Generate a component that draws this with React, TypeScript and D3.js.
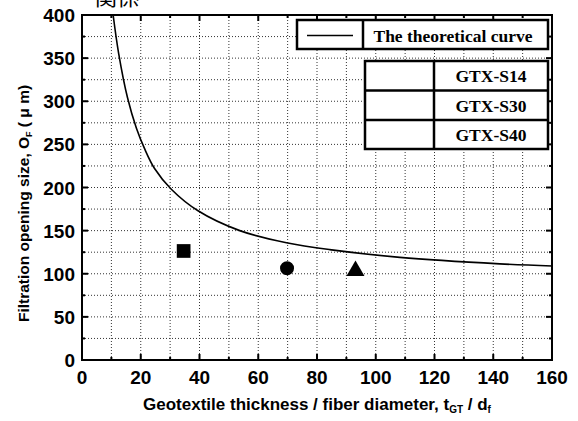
import React, { useEffect, useRef } from 'react';
import * as d3 from 'd3';

// theoretical curve, points
const curveRatio = [10.6, 12.5, 15.5, 18.5, 21.3, 24.7, 30.4, 39.5, 53.7, 69.6, 84.3, 108.2, 142.2, 160];
const curveSize = [400, 355, 304, 269, 245, 222, 198, 173, 150, 136, 128, 119, 111.5, 109];

// measured geotextiles
const samples = ['GTX-S14', 'GTX-S30', 'GTX-S40'];
const sampleRatio = [34.6, 69.8, 93.1];
const sampleSize = [126.4, 106.3, 103.3];

const xTicks = [0, 20, 40, 60, 80, 100, 120, 140, 160];
const yTicks = [0, 50, 100, 150, 200, 250, 300, 350, 400];

const App = () => {
  const svgRef = useRef(null);

  useEffect(() => {
    const svg = d3.select(svgRef.current);
    const width = 578;
    const height = 421;
    const margin = { top: 15, right: 26, bottom: 61, left: 82 };
    const sans = '"Liberation Sans", Arial, sans-serif';
    const serif = '"Liberation Serif", "Times New Roman", serif';

    svg.selectAll('*').remove();

    const x = d3.scaleLinear().domain([0, 160]).range([margin.left, width - margin.right]);
    const y = d3.scaleLinear().domain([0, 400]).range([height - margin.bottom, margin.top]);

    // cut-off title at the very top
    svg.append('text')
      .attr('x', 95).attr('y', 5)
      .attr('font-family', '"Noto Sans CJK JP", sans-serif')
      .attr('font-size', 22)
      .text('関係');

    // dotted grid
    const grid = svg.append('g')
      .attr('stroke', '#333')
      .attr('stroke-width', 1)
      .attr('stroke-dasharray', '1,2');
    grid.selectAll('line.gx')
      .data(d3.range(10, 160, 10))
      .join('line')
      .attr('class', 'gx')
      .attr('x1', d => x(d)).attr('x2', d => x(d))
      .attr('y1', y(0)).attr('y2', y(400));
    grid.selectAll('line.gy')
      .data(d3.range(25, 400, 25))
      .join('line')
      .attr('class', 'gy')
      .attr('x1', x(0)).attr('x2', x(160))
      .attr('y1', d => y(d)).attr('y2', d => y(d));

    // ticks on all four sides, pointing inward
    const tickG = svg.append('g').attr('stroke', '#000').attr('stroke-width', 2);
    d3.range(10, 160, 10).forEach(v => {
      const len = v % 20 === 0 ? 6 : 3;
      tickG.append('line').attr('x1', x(v)).attr('x2', x(v)).attr('y1', y(0)).attr('y2', y(0) - len);
      tickG.append('line').attr('x1', x(v)).attr('x2', x(v)).attr('y1', y(400)).attr('y2', y(400) + len);
    });
    d3.range(25, 400, 25).forEach(v => {
      const len = v % 50 === 0 ? 6 : 3;
      tickG.append('line').attr('y1', y(v)).attr('y2', y(v)).attr('x1', x(0)).attr('x2', x(0) + len);
      tickG.append('line').attr('y1', y(v)).attr('y2', y(v)).attr('x1', x(160)).attr('x2', x(160) - len);
    });

    // frame
    svg.append('rect')
      .attr('x', x(0)).attr('y', y(400))
      .attr('width', x(160) - x(0)).attr('height', y(0) - y(400))
      .attr('fill', 'none').attr('stroke', '#000').attr('stroke-width', 2);

    // tick labels
    svg.append('g')
      .attr('font-family', sans).attr('font-weight', 'bold').attr('font-size', 19)
      .attr('text-anchor', 'middle')
      .selectAll('text')
      .data(xTicks)
      .join('text')
      .attr('x', d => x(d)).attr('y', y(0) + 24)
      .text(d => d);
    svg.append('g')
      .attr('font-family', sans).attr('font-weight', 'bold').attr('font-size', 19)
      .attr('text-anchor', 'end')
      .selectAll('text')
      .data(yTicks)
      .join('text')
      .attr('x', x(0) - 7).attr('y', d => y(d) + 7)
      .text(d => d);

    // axis titles
    const xt = svg.append('text')
      .attr('x', (x(0) + x(160)) / 2).attr('y', 410)
      .attr('text-anchor', 'middle')
      .attr('font-family', sans).attr('font-weight', 'bold').attr('font-size', 17);
    xt.append('tspan').text('Geotextile thickness / fiber diameter, t');
    xt.append('tspan').attr('font-size', 10).attr('dy', 3).text('GT');
    xt.append('tspan').attr('dy', -3).text(' / d');
    xt.append('tspan').attr('font-size', 10).attr('dy', 3).text('f');

    const yt = svg.append('text')
      .attr('transform', `translate(29,${(y(0) + y(400)) / 2 + 16}) rotate(-90)`)
      .attr('text-anchor', 'middle')
      .attr('font-family', sans).attr('font-weight', 'bold').attr('font-size', 15.5);
    yt.append('tspan').text('Filtration opening size, O');
    yt.append('tspan').attr('font-size', 9).attr('dy', 3).text('F');
    yt.append('tspan').attr('dy', -3).text(' ( μ m)');

    // theoretical curve
    const pts = curveRatio.map((r, i) => [r, curveSize[i]]);
    const line = d3.line()
      .x(d => x(d[0])).y(d => y(d[1]))
      .curve(d3.curveCatmullRom.alpha(0.5));
    svg.append('path')
      .datum(pts)
      .attr('d', line)
      .attr('fill', 'none').attr('stroke', '#000').attr('stroke-width', 1.6);

    // measured points
    const shapes = [d3.symbolSquare, d3.symbolCircle, d3.symbolTriangle];
    const sizes = [188, 154, 140];
    samples.forEach((s, i) => {
      svg.append('path')
        .attr('d', d3.symbol().type(shapes[i]).size(sizes[i])())
        .attr('transform', `translate(${x(sampleRatio[i])},${y(sampleSize[i])})`)
        .attr('fill', '#000');
    });

    // legend: theoretical curve
    const lg = svg.append('g').attr('font-family', serif).attr('font-weight', 'bold').attr('font-size', 17.5);
    lg.append('rect')
      .attr('x', 297).attr('y', 20).attr('width', 251).attr('height', 29)
      .attr('fill', '#fff').attr('stroke', '#000').attr('stroke-width', 2.5);
    lg.append('line').attr('x1', 363).attr('x2', 363).attr('y1', 20).attr('y2', 49)
      .attr('stroke', '#000').attr('stroke-width', 2.5);
    lg.append('line').attr('x1', 307).attr('x2', 353).attr('y1', 35.5).attr('y2', 35.5)
      .attr('stroke', '#000').attr('stroke-width', 1.6);
    lg.append('text').attr('x', 453).attr('y', 41.5).attr('text-anchor', 'middle')
      .text('The theoretical curve');

    // legend: samples
    lg.append('rect')
      .attr('x', 365).attr('y', 61).attr('width', 183).attr('height', 88)
      .attr('fill', '#fff').attr('stroke', '#000').attr('stroke-width', 2.5);
    lg.append('line').attr('x1', 434).attr('x2', 434).attr('y1', 61).attr('y2', 149)
      .attr('stroke', '#000').attr('stroke-width', 2.5);
    samples.forEach((s, i) => {
      const top = 61 + i * 29.5;
      if (i > 0) {
        lg.append('line').attr('x1', 365).attr('x2', 548).attr('y1', top).attr('y2', top)
          .attr('stroke', '#000').attr('stroke-width', 2.5);
      }
      lg.append('text').attr('x', 491).attr('y', top + 21).attr('text-anchor', 'middle').text(s);
    });
  }, []);

  return (
    <svg ref={svgRef} width="578" height="421"
      style={{ position: 'absolute', left: 0, top: 0, background: '#fff' }}></svg>
  );
};

export default App;
